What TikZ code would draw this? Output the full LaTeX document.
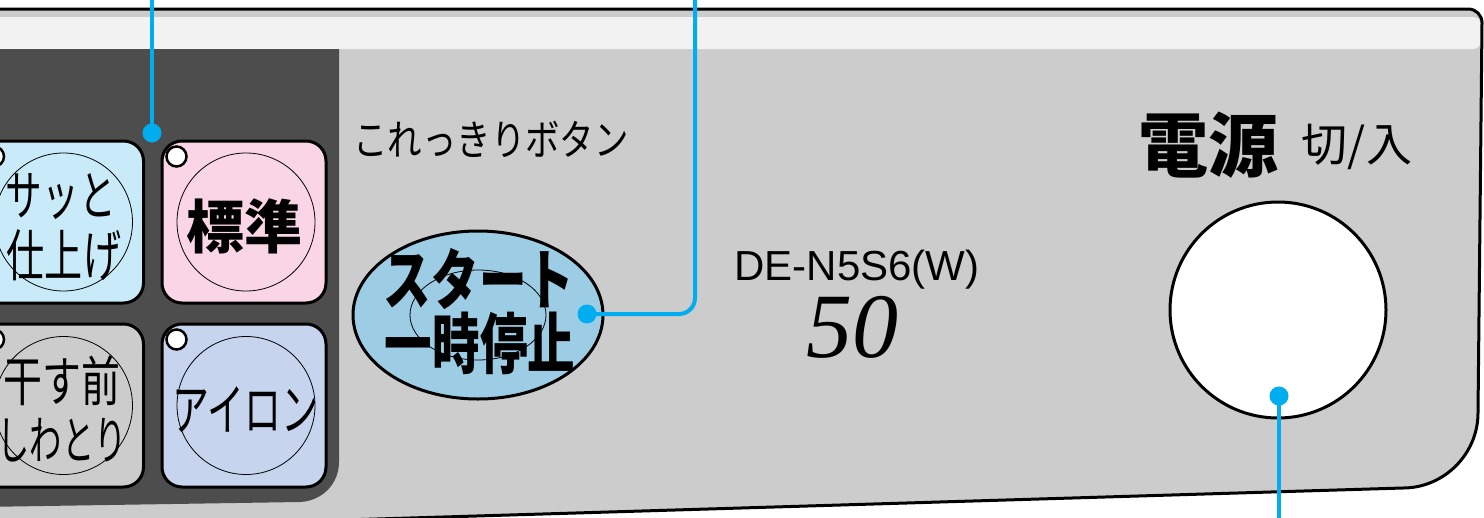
\documentclass[tikz,border=0pt]{standalone}
\usepackage{fontspec}
\usepackage{graphicx}
\usetikzlibrary{shapes.geometric}
\setmainfont{Liberation Sans}
\newfontfamily\jp{Noto Sans CJK JP}
\newfontfamily\lserif{Liberation Serif}
\definecolor{panelgray}{HTML}{CCCCCC}
\definecolor{stripgray}{HTML}{F2F2F2}
\definecolor{darkpanel}{HTML}{4D4D4D}
\definecolor{bblue}{HTML}{C8EAF9}
\definecolor{bpink}{HTML}{F9D5E6}
\definecolor{bgray}{HTML}{CCCCCC}
\definecolor{bviolet}{HTML}{C6D4EE}
\definecolor{startblue}{HTML}{9DCDE4}
\definecolor{cyanline}{HTML}{00AEEF}
\tikzset{
  keybtn/.style={draw=black, line width=3, rounded corners=20, minimum width=164, minimum height=163, inner sep=0},
  innerring/.style={circle, draw=black, line width=0.8, minimum size=138, inner sep=0},
  lamp/.style={circle, draw=black, fill=white, line width=2.5, minimum size=20, inner sep=0},
  dotnode/.style={circle, fill=cyanline, minimum size=19, inner sep=0},
  conn/.style={draw=cyanline, line width=4},
  jtxt/.style={inner sep=0, anchor=center},
}
\begin{document}
\begin{tikzpicture}[x=1pt, y=-1pt]
\path[use as bounding box] (0,0) rectangle (1484,517);
\clip (0,0) rectangle (1484,517);
% panel
\fill[panelgray] (-20,9) -- (1468,9) .. controls (1476,9) and (1482,15) .. (1482,23) -- (1478,413) .. controls (1478,454) and (1444,488) .. (1403,488) -- (-20,531) -- cycle;
\fill[stripgray, rounded corners=8] (-20,17) rectangle (1481,49);
\fill[darkpanel] (-20,49) -- (339,49) -- (339,462) .. controls (339,484) and (322,501) .. (300,502) -- (-20,507) -- cycle;
\draw[black, line width=3] (-20,9) -- (1468,9) .. controls (1476,9) and (1482,15) .. (1482,23) -- (1478,413) .. controls (1478,454) and (1444,488) .. (1403,488) -- (-20,531);
% mode buttons
\node[keybtn, fill=bblue, minimum height=162] (quick) at (61.5,222) {};
\node[keybtn, fill=bpink, minimum height=162] (std) at (244,222) {};
\node[keybtn, fill=bgray] (wrinkle) at (61.5,405.5) {};
\node[keybtn, fill=bviolet] (iron) at (244,405.5) {};
\foreach \b in {quick,std,wrinkle,iron}{
  \node[innerring] at ([xshift=2]\b.center) {};
  \node[lamp] at ([shift={(16,17)}]\b.north west) {};
}
\node[jtxt] (t1) at (61,197) {\jp\fontsize{54}{54}\selectfont\scalebox{0.68}[1]{サッと}};
\node[jtxt] (t2) at (64,255) {\jp\fontsize{56}{56}\selectfont\scalebox{0.68}[1]{仕上げ}};
\node[jtxt] (t3) at (244,226) {\jp\bfseries\fontsize{58}{58}\selectfont 標準};
\node[jtxt] (t4) at (62,381) {\jp\fontsize{54}{54}\selectfont\scalebox{0.72}[1]{干す前}};
\node[jtxt] (t5) at (62,440) {\jp\fontsize{52}{52}\selectfont\scalebox{0.62}[1]{しわとり}};
\node[jtxt] (t6) at (245,410) {\jp\fontsize{56}{56}\selectfont\scalebox{0.66}[1]{アイロン}};
% start button
\node[jtxt] (t7) at (491,139) {\jp\fontsize{42}{42}\selectfont\scalebox{0.82}[1]{これっきりボタン}};
\node[ellipse, draw=black, line width=3, fill=startblue, minimum width=250, minimum height=168, inner sep=0] (start) at (478,315) {};
\node[ellipse, draw=black, line width=0.8, minimum width=136, minimum height=90, inner sep=0] (startring) at (478,315) {};
\node[jtxt] (t8) at (479,279) {\jp\bfseries\fontsize{66}{66}\selectfont\scalebox{0.72}[1]{スタート}};
\node[jtxt] (t9) at (480,343) {\jp\bfseries\fontsize{66}{66}\selectfont\scalebox{0.72}[1]{一時停止}};
% model
\node[inner sep=0, anchor=base] (model) at (857,280) {\fontsize{42}{42}\selectfont DE-N5S6(W)};
\node[inner sep=0, anchor=base] (cap) at (852,357) {\lserif\itshape\fontsize{92}{92}\selectfont 50};
% power
\node[jtxt] (t10) at (1208,145) {\jp\bfseries\fontsize{70}{70}\selectfont 電源};
\node[jtxt] (t11) at (1357,147) {\jp\fontsize{46}{46}\selectfont 切/入};
\node[circle, draw=black, line width=3, fill=white, minimum size=216, inner sep=0] (power) at (1278,310) {};
% connectors
\node[dotnode] (d1) at (152,133) {};
\node[dotnode] (d2) at (587,314) {};
\node[dotnode] (d3) at (1279,396) {};
\coordinate (e1) at (152,-2);
\coordinate (e2) at (695,-2);
\coordinate (e3) at (1279,519);
\draw[conn] (e1) -- (d1.center);
\draw[conn, rounded corners=16] (e2) |- (d2.center);
\draw[conn] (d3.center) -- (e3);
\end{tikzpicture}
\end{document}
